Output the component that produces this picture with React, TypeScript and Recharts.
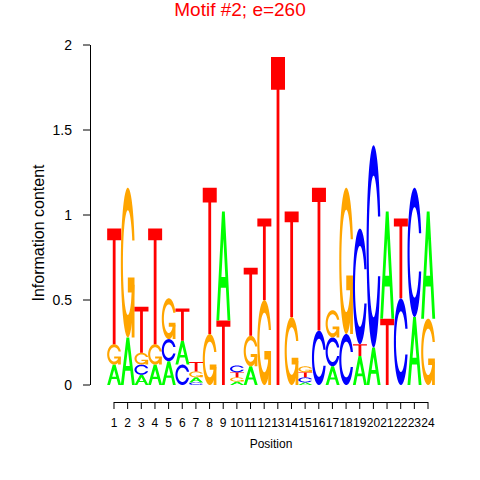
import React from 'react';
import { BarChart, Bar, XAxis, YAxis, ReferenceLine } from 'recharts';

const FONT = '"Liberation Sans", Arial, Helvetica, sans-serif';

// motif positions and information content per base (bits)
const positions = [1, 2, 3, 4, 5, 6, 7, 8, 9, 10, 11, 12, 13, 14, 15, 16, 17, 18, 19, 20, 21, 22, 23, 24];
const heightA = [0.12, 0.28, 0.06, 0.12, 0.14, 0.14, 0.03, 0, 0.64, 0.02, 0.11, 0, 0, 0, 0.015, 0, 0.11, 0, 0.17, 0.22, 0.63, 0, 0.4, 0.63];
const heightC = [0, 0, 0.06, 0, 0.13, 0.12, 0.015, 0, 0, 0.04, 0, 0, 0, 0, 0.03, 0.32, 0.17, 0.3, 0.68, 1.19, 0, 0.51, 0.76, 0];
const heightG = [0.12, 0.88, 0.07, 0.12, 0.24, 0, 0.035, 0.3, 0, 0.025, 0.18, 0.5, 0, 0.4, 0.035, 0, 0.16, 0.86, 0, 0, 0, 0, 0, 0.39];
const heightT = [0.68, 0, 0.27, 0.68, 0, 0.19, 0.055, 0.86, 0.38, 0.03, 0.4, 0.48, 1.93, 0.62, 0.03, 0.84, 0, 0, 0.07, 0, 0.39, 0.47, 0, 0];
// letters stacked bottom -> top, as drawn
const stackOrder = ['AGT', 'AG', 'ACGT', 'AGT', 'ACG', 'CAT', 'CAGT', 'GT', 'TA', 'AGTC', 'AGT', 'GT', 'T', 'GT', 'ACTG', 'CT', 'ACG', 'CG', 'ATC', 'AC', 'TA', 'CT', 'AC', 'GA'];
const yTicks = [0, 0.5, 1, 1.5, 2];

const letterColors: Record<string, string> = { A: '#00FF00', C: '#0000FF', G: '#FFA500', T: '#FF0000' };
const heights: Record<string, number[]> = { A: heightA, C: heightC, G: heightG, T: heightT };

const data = positions.map((pos, i) => {
  const row: any = { pos };
  for (let k = 0; k < 4; k++) {
    const letter = stackOrder[i][k];
    row[`l${k}`] = letter || null;
    row[`s${k}`] = letter ? heights[letter][i] : 0;
  }
  return row;
});

// letter outlines in a unit box (u right, v up), seqLogo style
type Pt = [number, number];
const linspace = (a: number, b: number, n: number) =>
  Array.from({ length: n }, (_, i) => a + ((b - a) * i) / (n - 1));

const a1 = linspace(0.3 + Math.PI / 2, Math.PI, 40);
const a2 = linspace(Math.PI, 1.5 * Math.PI, 40);
const outerHalf: Pt[] = [...a1, ...a2].map((a) => [0.5 + 0.5 * Math.sin(a), 0.5 + 0.5 * Math.cos(a)]);
const capY = 0.5 + 0.5 * Math.cos(a1[0]);
const inner1: Pt[] = a1
  .map((a) => [0.5 + 0.35 * Math.sin(a), 0.5 + 0.35 * Math.cos(a)] as Pt)
  .filter((p) => p[1] <= capY);
if (inner1.length) inner1[0] = [inner1[0][0], capY];
const inner2: Pt[] = a2.map((a) => [0.5 + 0.35 * Math.sin(a), 0.5 + 0.35 * Math.cos(a)] as Pt);
const innerHalf = [...inner1, ...inner2];
const mirror = (pts: Pt[]): Pt[] => [...pts].reverse().map(([u, v]) => [u, 1 - v] as Pt);
const outerFull = [...outerHalf, ...mirror(outerHalf)];
const innerFull = [...innerHalf, ...mirror(innerHalf)];
const ringC: Pt[] = [...outerFull, ...[...innerFull].reverse()];
const r1 = outerHalf[0][0];
const barG: Pt[] = [[r1, 0.4], [0.5, 0.4], [0.5, 0.3], [r1 - 0.2, 0.3], [r1 - 0.2, 0], [r1, 0]];
const polyA: Pt[][] = [
  [[0, 0], [0.4, 1], [0.6, 1], [1, 0], [0.8, 0], [0.68, 0.3], [0.32, 0.3], [0.2, 0]],
  [[0.36, 0.4], [0.5, 0.75], [0.64, 0.4]],
];
const polyT: Pt[] = [[0, 1], [1, 1], [1, 0.9], [0.6, 0.9], [0.6, 0], [0.4, 0], [0.4, 0.9], [0, 0.9]];

const letterShapes: Record<string, Pt[][][]> = {
  A: [polyA],
  C: [[ringC]],
  G: [[ringC], [barG]],
  T: [[polyT]],
};

const toPath = (polys: Pt[][], x: number, y: number, w: number, h: number) =>
  polys
    .map((poly) => 'M' + poly.map(([u, v]) => `${(x + u * w).toFixed(2)},${(y + (1 - v) * h).toFixed(2)}`).join('L') + 'Z')
    .join('');

const makeLetterShape = (slot: number) => (props: any) => {
  const { x, y, width, height, payload } = props;
  const letter = payload ? payload[`l${slot}`] : null;
  if (!letter || !height || height <= 0) return <g />;
  return (
    <g>
      {letterShapes[letter].map((polys, i) => (
        <path key={i} d={toPath(polys, x, y, width, height)} fill={letterColors[letter]} fillRule="evenodd" />
      ))}
    </g>
  );
};

const X_MIN = -0.75796;
const X_MAX = 25.61146;

export default function App() {
  return (
    <div style={{ position: 'absolute', left: 0, top: 0, width: 480, height: 480, background: '#fff', fontFamily: FONT }}>
      <BarChart
        width={480}
        height={480}
        data={data}
        margin={{ top: 38, right: 30, left: 0, bottom: 38 }}
        barCategoryGap={0}
        barGap={0}
      >
        <XAxis
          dataKey="pos"
          type="number"
          domain={[X_MIN, X_MAX]}
          ticks={positions}
          interval={0}
          allowDataOverflow
          axisLine={false}
          tickLine={{ stroke: '#000' }}
          tickSize={7}
          tickMargin={9}
          height={40}
          tick={{ fill: '#000', fontSize: 12, fontFamily: FONT }}
        />
        <YAxis
          type="number"
          domain={[-0.1, 2.0412]}
          ticks={yTicks}
          interval={0}
          allowDataOverflow
          axisLine={false}
          tickLine={{ stroke: '#000' }}
          tickSize={7}
          tickMargin={11}
          width={90}
          tick={{ fill: '#000', fontSize: 14, fontFamily: FONT }}
        />
        {[0, 1, 2, 3].map((k) => (
          <Bar
            key={k}
            dataKey={`s${k}`}
            stackId="logo"
            isAnimationActive={false}
            shape={makeLetterShape(k)}
          />
        ))}
        <ReferenceLine
          segment={[{ x: 1, y: -0.1 }, { x: 24, y: -0.1 }]}
          stroke="#000"
          ifOverflow="visible"
          shapeRendering="crispEdges"
        />
        <ReferenceLine
          segment={[{ x: X_MIN, y: 0 }, { x: X_MIN, y: 2 }]}
          stroke="#000"
          ifOverflow="visible"
          shapeRendering="crispEdges"
        />
      </BarChart>
      <div
        style={{
          position: 'absolute', left: 0, top: 0, width: 480, textAlign: 'center',
          fontSize: 19, lineHeight: '20px', color: '#FF0000',
        }}
      >
        Motif #2; e=260
      </div>
      <div
        style={{
          position: 'absolute', left: 114, top: 437, width: 314, textAlign: 'center',
          fontSize: 12, lineHeight: '14px', color: '#000',
        }}
      >
        Position
      </div>
      <div
        style={{
          position: 'absolute', left: 39, top: 233, whiteSpace: 'nowrap',
          fontSize: 16, lineHeight: '16px', color: '#000',
          transform: 'translate(-50%, -50%) rotate(-90deg)',
        }}
      >
        Information content
      </div>
    </div>
  );
}
